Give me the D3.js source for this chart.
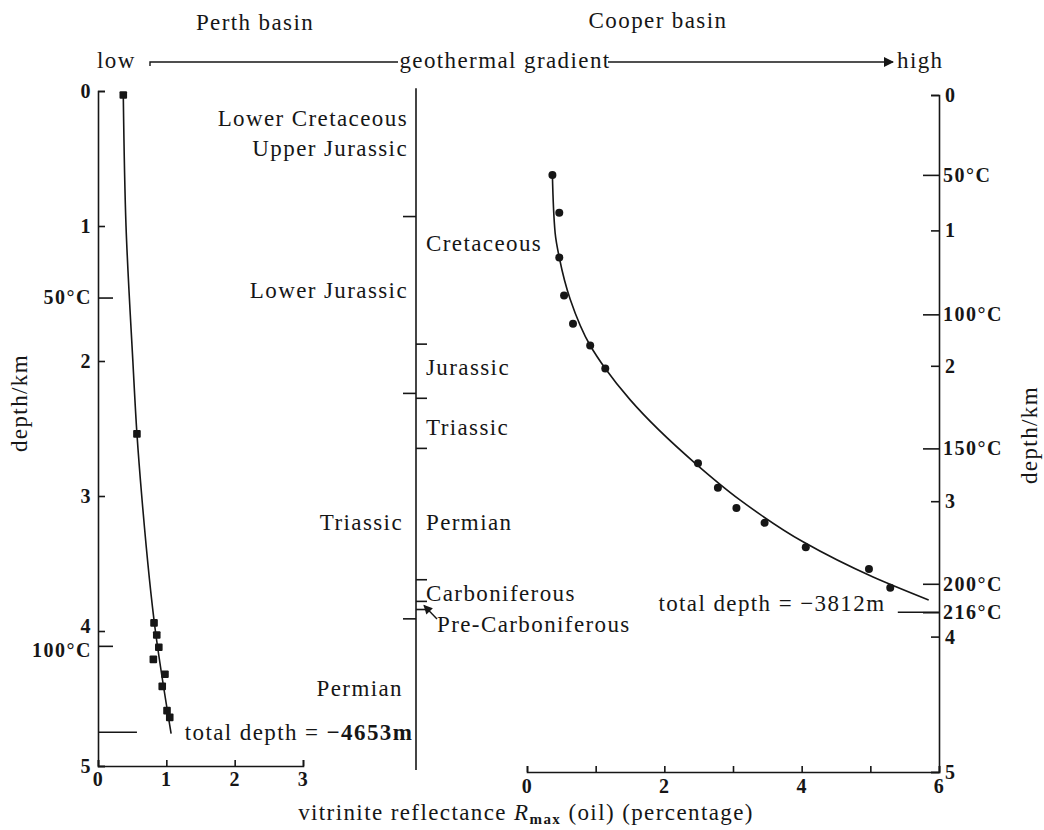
<!DOCTYPE html>
<html><head><meta charset="utf-8">
<script src="https://cdn.jsdelivr.net/npm/d3@7"></script>
<style>
body{margin:0;background:#fff;}
svg{display:block;}
text{font-family:"Liberation Serif","DejaVu Serif","Times New Roman",serif;fill:#161616;}
.lab{font-size:23px;letter-spacing:1.4px;}
.ax text{font-size:20px;font-weight:bold;letter-spacing:1.5px;}
.ax line,.ax path{stroke:#161616;stroke-width:1.6;}
</style></head><body>
<svg id="c" width="1044" height="830"></svg>
<script>
// ---------- data ----------
const perthR        = [0.37, 0.57, 0.82, 0.86, 0.89, 0.81, 0.98, 0.94, 1.01, 1.05];
const perthDepth    = [0.03, 2.54, 3.94, 4.03, 4.12, 4.21, 4.32, 4.41, 4.59, 4.64];
const perthFitR     = [0.37, 0.41, 0.51, 0.57, 0.64, 0.84, 1.07];
const perthFitDepth = [0.03, 1.00, 2.00, 2.54, 3.00, 4.00, 4.76];

const cooperR        = [0.37, 0.47, 0.47, 0.54, 0.67, 0.92, 1.14, 2.49, 2.78, 3.05, 3.46, 4.06, 4.98, 5.29];
const cooperDepth    = [0.59, 0.87, 1.20, 1.48, 1.69, 1.85, 2.02, 2.72, 2.90, 3.05, 3.16, 3.34, 3.50, 3.64];
const cooperFitR     = [0.37, 0.41, 0.47, 0.63, 0.92, 1.14, 1.50, 2.45, 3.10, 4.02, 5.04, 5.85];
const cooperFitDepth = [0.59, 1.02, 1.20, 1.51, 1.85, 2.02, 2.25, 2.72, 2.99, 3.30, 3.56, 3.73];

const depthTicks = [0, 1, 2, 3, 4, 5];
const perthRTicks = [0, 1, 2, 3];
const cooperRTicks = [0, 1, 2, 3, 4, 5, 6];
const cooperRTickLabels = ["0", "", "2", "", "4", "", "6"];

const perthTempDepth  = [1.53, 4.11];
const perthTempLabels = ["50°C", "100°C"];
const cooperTempDepth  = [0.59, 1.62, 2.61, 3.61, 3.82];
const cooperTempLabels = ["50°C", "100°C", "150°C", "200°C", "216°C"];

const perthStratBounds  = [0.93, 2.24, 3.91];
const cooperStratBounds = [1.84, 2.24, 2.61, 3.58, 3.74, 3.80];
const perthStratNames   = ["Lower Cretaceous", "Upper Jurassic", "Lower Jurassic", "Triassic", "Permian"];
const perthStratDepth   = [0.20, 0.42, 1.47, 3.19, 4.42];
const cooperStratNames  = ["Cretaceous", "Jurassic", "Triassic", "Permian", "Carboniferous", "Pre-Carboniferous"];
const cooperStratDepth  = [1.09, 2.01, 2.45, 3.15, 3.68, 3.91];

const perthTotalDepthMark = 4.75, perthTotalDepthText = "total depth = ", perthTotalDepthValue = "−4653m";
const cooperTotalDepthMark = 3.82, cooperTotalDepthText = "total depth = −3812m";

// ---------- scales ----------
const svg = d3.select("#c");
const xP = d3.scaleLinear([0, 3], [98, 303]);
const yP = d3.scaleLinear([0, 5], [91, 766]);
const xC = d3.scaleLinear([0, 6], [527, 939]);
const yC = d3.scaleLinear([0, 5], [95, 772]);
const midX = 416;
const ink = "#161616";

// ---------- header ----------
svg.append("text").attr("class","lab").attr("x",255).attr("y",30).attr("text-anchor","middle").text("Perth basin");
svg.append("text").attr("class","lab").attr("x",658).attr("y",28).attr("text-anchor","middle").text("Cooper basin");
svg.append("text").attr("class","lab").attr("x",97).attr("y",68).text("low");
svg.append("text").attr("class","lab").attr("x",505).attr("y",68).attr("text-anchor","middle").text("geothermal gradient");
svg.append("text").attr("class","lab").attr("x",897).attr("y",68).text("high");
const defs = svg.append("defs");
defs.append("marker").attr("id","ah").attr("viewBox","0 0 10 10")
  .attr("refX",9).attr("refY",5).attr("markerWidth",14).attr("markerHeight",10)
  .attr("markerUnits","userSpaceOnUse").attr("orient","auto")
  .append("path").attr("d","M0,0L10,5L0,10Z").attr("fill",ink);
defs.append("marker").attr("id","ah2").attr("viewBox","0 0 10 10")
  .attr("refX",9).attr("refY",5).attr("markerWidth",11).attr("markerHeight",9)
  .attr("markerUnits","userSpaceOnUse").attr("orient","auto")
  .append("path").attr("d","M0,0L10,5L0,10Z").attr("fill",ink);
svg.append("path").attr("d","M150,66V62H398").attr("stroke",ink).attr("stroke-width",1.4).attr("fill","none");
svg.append("line").attr("x1",608).attr("x2",893).attr("y1",62).attr("y2",62)
  .attr("stroke",ink).attr("stroke-width",1.4).attr("marker-end","url(#ah)");

// ---------- Perth axes ----------
function styleAx(g){ g.attr("font-family",null).attr("font-size",null).classed("ax",true); g.selectAll("text").attr("fill",ink); return g; }
styleAx(svg.append("g").attr("transform",`translate(${xP(0)},0)`)
  .call(d3.axisLeft(yP).tickValues(depthTicks).tickFormat(d3.format("d")).tickSize(-7).tickSizeOuter(-7).tickPadding(6)))
  .selectAll(".tick text").attr("dy", d => d === 4 ? "0.05em" : "0.32em");
styleAx(svg.append("g").attr("transform",`translate(${xP(0)},0)`)
  .call(d3.axisLeft(yP).tickValues(perthTempDepth).tickFormat((d,i)=>perthTempLabels[i]).tickSize(-15).tickPadding(6)))
  .call(g => g.select(".domain").remove())
  .selectAll(".tick text").attr("dy",(d,i)=> i === 1 ? "0.55em" : "0.32em");
styleAx(svg.append("g").attr("transform",`translate(0,${yP(5)})`)
  .call(d3.axisBottom(xP).tickValues(perthRTicks).tickFormat(d3.format("d")).tickSize(-6).tickSizeOuter(-6).tickPadding(6)));

// ---------- Cooper axes ----------
styleAx(svg.append("g").attr("transform",`translate(${xC(6)},0)`)
  .call(d3.axisRight(yC).tickValues(depthTicks).tickFormat(d3.format("d")).tickSize(-8).tickSizeOuter(-8).tickPadding(6)));
styleAx(svg.append("g").attr("transform",`translate(${xC(6)},0)`)
  .call(d3.axisRight(yC).tickValues(cooperTempDepth).tickFormat((d,i)=>cooperTempLabels[i]).tickSize(-16).tickPadding(4)))
  .select(".domain").remove();
styleAx(svg.append("g").attr("transform",`translate(0,${yC(5)})`)
  .call(d3.axisBottom(xC).tickValues(cooperRTicks).tickFormat((d,i)=>cooperRTickLabels[i]).tickSize(-6).tickSizeOuter(-6).tickPadding(7)));

// ---------- middle stratigraphy column ----------
svg.append("line").attr("x1",midX).attr("x2",midX).attr("y1",yP(-0.02)).attr("y2",yP(5.03)).attr("stroke",ink).attr("stroke-width",1.6);
svg.selectAll(".pb").data(perthStratBounds).join("line").attr("class","pb")
  .attr("x1",midX-13).attr("x2",midX).attr("y1",d=>yP(d)).attr("y2",d=>yP(d)).attr("stroke",ink).attr("stroke-width",1.6);
svg.selectAll(".cb").data(cooperStratBounds).join("line").attr("class","cb")
  .attr("x1",midX).attr("x2",midX+11).attr("y1",d=>yC(d)).attr("y2",d=>yC(d)).attr("stroke",ink).attr("stroke-width",1.6);
svg.selectAll(".pn").data(perthStratNames).join("text").attr("class","lab pn")
  .attr("x",(d,i)=> i < 3 ? midX-8 : midX-13).attr("y",(d,i)=>yP(perthStratDepth[i])).attr("dy","0.35em")
  .attr("text-anchor","end").text(d=>d);
svg.selectAll(".cn").data(cooperStratNames).join("text").attr("class","lab cn")
  .attr("x",(d,i)=> i === 5 ? midX+21 : midX+10).attr("y",(d,i)=>yC(cooperStratDepth[i])).attr("dy","0.35em")
  .text(d=>d);
svg.append("line").attr("x1",midX+21).attr("y1",yC(3.87)).attr("x2",midX+8).attr("y2",yC(3.77))
  .attr("stroke",ink).attr("stroke-width",1.4).attr("marker-end","url(#ah2)");

// ---------- Perth data ----------
const pFit = perthFitR.map((r,i)=>[r, perthFitDepth[i]]);
svg.append("path").attr("d", d3.line().x(d=>xP(d[0])).y(d=>yP(d[1])).curve(d3.curveMonotoneY)(pFit))
  .attr("fill","none").attr("stroke",ink).attr("stroke-width",1.6);
svg.selectAll(".ps").data(perthR).join("rect").attr("class","ps")
  .attr("x",(d)=>xP(d)-3.8).attr("y",(d,i)=>yP(perthDepth[i])-3.8).attr("width",7.6).attr("height",7.6)
  .attr("rx",1).attr("fill",ink);
svg.append("line").attr("x1",xP(0)).attr("x2",xP(0.57)).attr("y1",yP(perthTotalDepthMark)).attr("y2",yP(perthTotalDepthMark))
  .attr("stroke",ink).attr("stroke-width",1.4);
const tp = svg.append("text").attr("class","lab").attr("x",xP(1.27)).attr("y",yP(perthTotalDepthMark)).attr("dy","0.35em");
tp.append("tspan").text(perthTotalDepthText);
tp.append("tspan").attr("font-weight","bold").text(perthTotalDepthValue);

// ---------- Cooper data ----------
const cFit = cooperFitR.map((r,i)=>[r, cooperFitDepth[i]]);
svg.append("path").attr("d", d3.line().x(d=>xC(d[0])).y(d=>yC(d[1])).curve(d3.curveMonotoneY)(cFit))
  .attr("fill","none").attr("stroke",ink).attr("stroke-width",1.6);
svg.selectAll(".cc").data(cooperR).join("circle").attr("class","cc")
  .attr("cx",d=>xC(d)).attr("cy",(d,i)=>yC(cooperDepth[i])).attr("r",4).attr("fill",ink);
svg.append("line").attr("x1",xC(5.4)).attr("x2",xC(6)).attr("y1",yC(cooperTotalDepthMark)).attr("y2",yC(cooperTotalDepthMark))
  .attr("stroke",ink).attr("stroke-width",1.4);
svg.append("text").attr("class","lab").attr("x",xC(5.22)).attr("y",yC(cooperTotalDepthMark)).attr("dy","-0.05em")
  .attr("text-anchor","end").text(cooperTotalDepthText);

// ---------- axis titles ----------
svg.append("text").attr("class","lab").attr("transform","translate(27,403) rotate(-90)").attr("text-anchor","middle").text("depth/km");
svg.append("text").attr("class","lab").attr("transform","translate(1037,435) rotate(-90)").attr("text-anchor","middle").text("depth/km");
const xt = svg.append("text").attr("class","lab").attr("x",526).attr("y",820).attr("text-anchor","middle");
xt.append("tspan").text("vitrinite reflectance ");
xt.append("tspan").attr("font-style","italic").text("R");
xt.append("tspan").attr("font-weight","bold").attr("font-size","15px").attr("dy","4").text("max");
xt.append("tspan").attr("dy","-4").text(" (oil) (percentage)");
</script>
</body></html>
